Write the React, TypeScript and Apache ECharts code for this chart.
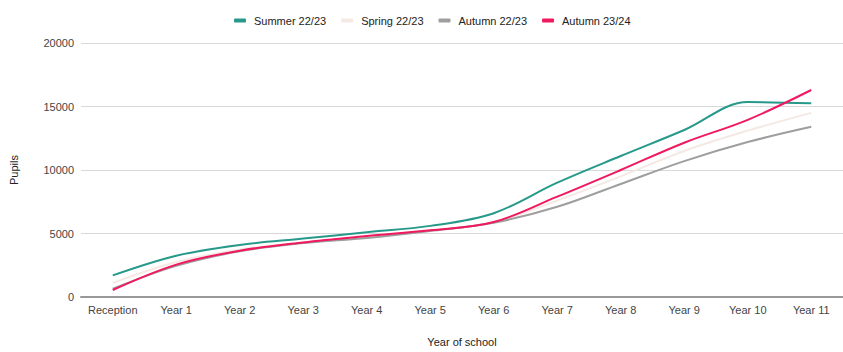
import React, { useEffect, useRef } from "react";
import * as echarts from "echarts";

const categories = ["Reception", "Year 1", "Year 2", "Year 3", "Year 4", "Year 5", "Year 6", "Year 7", "Year 8", "Year 9", "Year 10", "Year 11"];
const summer2223 = [1700, 3250, 4100, 4600, 5100, 5600, 6600, 9000, 11100, 13150, 15350, 15250];
const spring2223 = [1100, 2750, 3750, 4300, 4750, 5250, 5900, 7600, 9500, 11500, 13100, 14500];
const autumn2223 = [650, 2450, 3600, 4250, 4650, 5200, 5850, 7100, 8900, 10700, 12200, 13400];
const autumn2324 = [550, 2550, 3650, 4300, 4800, 5250, 5900, 7900, 10000, 12150, 13950, 16300];
const seriesNames = ["Summer 22/23", "Spring 22/23", "Autumn 22/23", "Autumn 23/24"];
const seriesColors = ["#26998a", "#f4e9e4", "#9e9e9e", "#f0195f"];

export default function App() {
  const ref = useRef<HTMLDivElement>(null);
  useEffect(() => {
    document.body.style.margin = "0";
    if (!ref.current) return;
    const chart = echarts.init(ref.current, null, { renderer: "svg", width: 843, height: 352 });
    const font = "Arial, 'Liberation Sans', sans-serif";
    const data = [summer2223, spring2223, autumn2223, autumn2324];
    chart.setOption({
      animation: false,
      textStyle: { fontFamily: font },
      legend: {
        left: 229,
        top: 10,
        itemWidth: 12,
        itemHeight: 4,
        itemGap: 15,
        icon: "roundRect",
        textStyle: { fontSize: 11, color: "#222", fontFamily: font, padding: [0, 0, 0, 3] },
        data: seriesNames,
      },
      grid: { left: 79, top: 43, width: 771, height: 261, containLabel: false },
      xAxis: {
        type: "category",
        data: categories,
        boundaryGap: true,
        name: "Year of school",
        nameLocation: "middle",
        nameGap: 39,
        nameTextStyle: { fontSize: 11, color: "#222", fontFamily: font },
        axisLine: { lineStyle: { color: "#999", width: 2 } },
        axisTick: { show: false },
        axisLabel: { fontSize: 11, color: "#444", margin: 7, interval: 0, fontFamily: font },
      },
      yAxis: {
        type: "value",
        min: 0,
        max: 20000,
        interval: 5000,
        name: "Pupils",
        nameLocation: "middle",
        nameGap: 62,
        nameRotate: 90,
        nameTextStyle: { fontSize: 11, color: "#222", fontFamily: font },
        axisLine: { show: false },
        axisTick: { show: false },
        axisLabel: { fontSize: 11, color: "#444", margin: 7, fontFamily: font, formatter: (v: number) => String(v) },
        splitLine: { lineStyle: { color: "#d9d9d9", width: 1 } },
      },
      series: data.map((d, i) => ({
        name: seriesNames[i],
        type: "line",
        data: d,
        smooth: 0.35,
        showSymbol: false,
        symbol: "none",
        itemStyle: { color: seriesColors[i] },
        lineStyle: { color: seriesColors[i], width: 2 },
      })),
    });
    return () => chart.dispose();
  }, []);
  return <div ref={ref} style={{ width: 843, height: 352 }} />;
}
